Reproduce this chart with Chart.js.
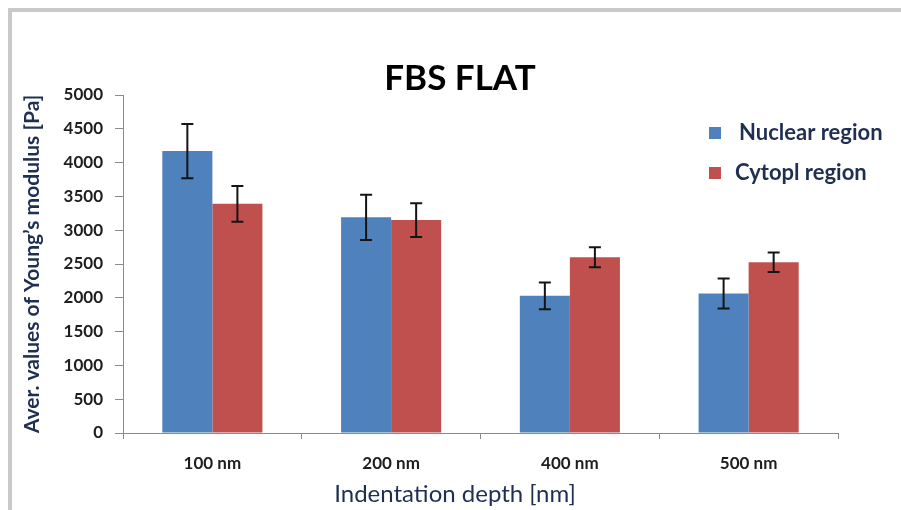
<!DOCTYPE html>
<html>
<head>
<meta charset="utf-8">
<script src="https://cdn.jsdelivr.net/npm/chart.js@4.4.1/dist/chart.umd.min.js"></script>
<style>
  body { margin: 0; background: #fff; overflow: hidden; }
  #wrap { position: relative; width: 901px; height: 510px; overflow: hidden; }
  #frame { position: absolute; left: 8px; top: 8px; right: 0; bottom: 0;
           border-top: 4px solid #c9c9c9; border-left: 4px solid #c9c9c9; pointer-events: none; }
  canvas { position: absolute; left: 0; top: 0; }
</style>
</head>
<body>
<div id="wrap">
  <canvas id="chart" width="901" height="510"></canvas>
  <div id="frame"></div>
</div>
<script>
// Datos
const categories = ['100 nm', '200 nm', '400 nm', '500 nm'];
const nuclear = [4170, 3190, 2030, 2065];
const nuclearErr = [400, 335, 198, 222];
const cytopl = [3390, 3150, 2600, 2525];
const cytoplErr = [265, 250, 148, 145];
const seriesNames = ['Nuclear region', 'Cytopl region'];

const BLUE = '#4f81bd';
const RED = '#c0504d';
const NAVY = '#1f2f52';
const AXIS = '#8a8a8a';
const FONT = 'Lato, "Open Sans", sans-serif';

// Barras de error (desviación) dibujadas con las escalas del gráfico
const errorBars = {
    id: 'errorBars',
    afterDatasetsDraw(chart) {
        const ctx = chart.ctx;
        const y = chart.scales.y;
        ctx.save();
        ctx.strokeStyle = '#141414';
        ctx.lineWidth = 2;
        chart.data.datasets.forEach((ds, di) => {
            const meta = chart.getDatasetMeta(di);
            meta.data.forEach((bar, i) => {
                const v = ds.data[i];
                const e = ds.errors[i];
                const top = y.getPixelForValue(v + e);
                const bot = y.getPixelForValue(v - e);
                const x = bar.x;
                ctx.beginPath();
                ctx.moveTo(x, top); ctx.lineTo(x, bot);
                ctx.moveTo(x - 6, top); ctx.lineTo(x + 6, top);
                ctx.moveTo(x - 6, bot); ctx.lineTo(x + 6, bot);
                ctx.stroke();
            });
        });
        ctx.restore();
    }
};

// Título, leyenda y título del eje X
const extras = {
    id: 'extras',
    afterDraw(chart) {
        const ctx = chart.ctx;
        ctx.save();
        ctx.fillStyle = '#000';
        ctx.font = 'bold 35px ' + FONT;
        ctx.textAlign = 'center';
        ctx.textBaseline = 'middle';
        ctx.fillText('FBS FLAT', 460, 79);

        ctx.fillStyle = NAVY;
        ctx.font = '24px ' + FONT;
        ctx.fillText('Indentation depth [nm]', 455, 494);

        const colors = [BLUE, RED];
        ctx.textAlign = 'left';
        ctx.font = 'bold 22px ' + FONT;
        seriesNames.forEach((name, i) => {
            const cy = 133 + i * 40;
            ctx.fillStyle = colors[i];
            ctx.fillRect(709, cy - 6, 12, 12);
            ctx.fillStyle = NAVY;
            ctx.fillText(name, 739 - (i ? 4 : 0), cy);
        });
        ctx.restore();
    }
};

new Chart(document.getElementById('chart'), {
    type: 'bar',
    data: {
        labels: categories,
        datasets: [
            { label: seriesNames[0], data: nuclear, errors: nuclearErr, backgroundColor: BLUE },
            { label: seriesNames[1], data: cytopl, errors: cytoplErr, backgroundColor: RED }
        ]
    },
    options: {
        responsive: false,
        animation: false,
        devicePixelRatio: 1,
        layout: { padding: { top: 95, right: 63, left: 0, bottom: 0 } },
        datasets: { bar: { categoryPercentage: 0.56, barPercentage: 1 } },
        plugins: {
            legend: { display: false },
            title: { display: false },
            tooltip: { enabled: false }
        },
        scales: {
            x: {
                afterFit: (s) => { s.height = 77; },
                grid: { drawOnChartArea: false, drawTicks: true, tickLength: 6, color: AXIS },
                border: { color: AXIS },
                ticks: { color: '#1e1e1e', padding: 14, font: { family: FONT, size: 17, weight: 'bold' } }
            },
            y: {
                min: 0,
                max: 5000,
                afterFit: (s) => { s.width = 123; },
                grid: { drawOnChartArea: false, drawTicks: true, tickLength: 8, color: AXIS },
                border: { color: AXIS },
                ticks: {
                    stepSize: 500,
                    color: '#1e1e1e',
                    padding: 12,
                    font: { family: FONT, size: 17, weight: 'bold' },
                    callback: (v) => String(v)
                },
                title: {
                    display: true,
                    text: 'Aver. values of Young\u2019s modulus [Pa]',
                    color: NAVY,
                    padding: { top: 20, bottom: 0 },
                    font: { family: FONT, size: 21, weight: 'bold' }
                }
            }
        }
    },
    plugins: [errorBars, extras]
});
</script>
</body>
</html>
